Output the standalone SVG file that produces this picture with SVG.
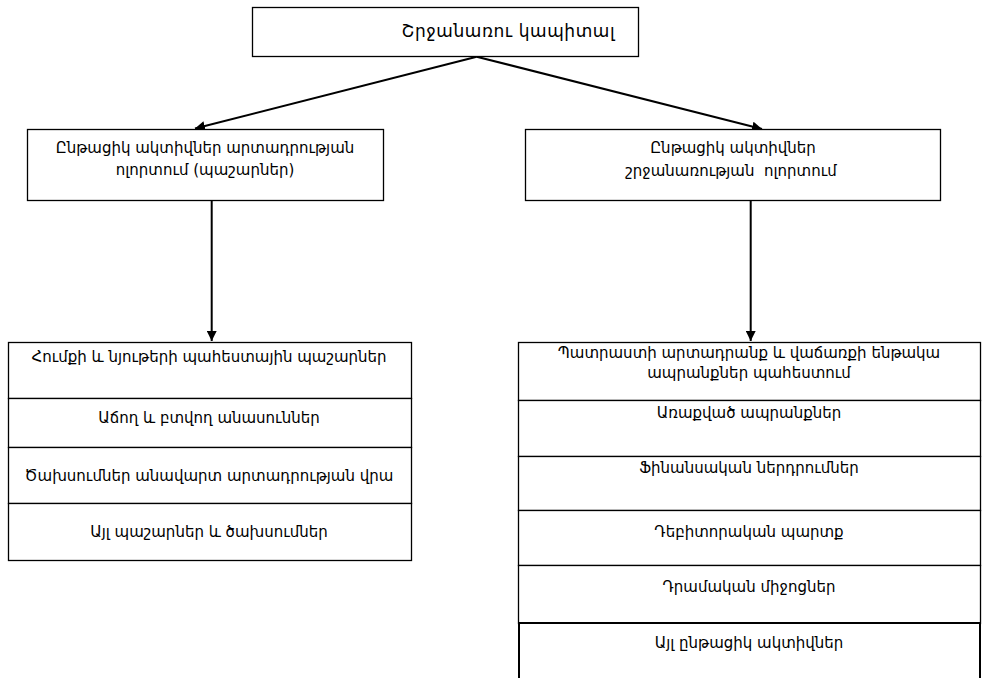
<svg xmlns="http://www.w3.org/2000/svg" width="982" height="678" viewBox="0 0 982 678">
  <defs>
    <marker id="arrow" viewBox="0 0 10 10" refX="10" refY="5" markerWidth="10" markerHeight="10" markerUnits="userSpaceOnUse" orient="auto">
      <path d="M0,0 L10,5 L0,10 Z" fill="#000"/>
    </marker>
    <style>
      .box { fill: #fff; stroke: #000; stroke-width: 1.3; }
      .box2 { fill: #fff; stroke: #000; stroke-width: 2; }
      .lbl { font-family: "DejaVu Sans", "Noto Sans", sans-serif; font-size: 15px; fill: #000; text-anchor: middle; dominant-baseline: central; }
      .title { font-size: 17px; }
      .conn { stroke: #000; stroke-width: 2; fill: none; marker-end: url(#arrow); }
    </style>
  </defs>
  <rect width="982" height="678" fill="#fff"/>

  <!-- connectors -->
  <g id="connectors">
    <line class="conn" x1="476.7" y1="56.7" x2="195" y2="128.5"/>
    <line class="conn" x1="476.7" y1="56.7" x2="762" y2="129"/>
    <line class="conn" x1="211.7" y1="200" x2="211.7" y2="341"/>
    <line class="conn" x1="750.7" y1="200" x2="750.7" y2="341"/>
  </g>

  <!-- top node -->
  <g id="working-capital">
    <rect class="box" x="252.5" y="7.5" width="386" height="49"/>
    <text class="lbl title" x="508" y="31" textLength="213" lengthAdjust="spacing">Շրջանառու կապիտալ</text>
  </g>

  <!-- second level -->
  <g id="production-assets">
    <rect class="box" x="27.5" y="129.5" width="356" height="71"/>
    <text class="lbl" x="205" y="148">Ընթացիկ ակտիվներ արտադրության</text>
    <text class="lbl" x="205" y="170">ոլորտում (պաշարներ)</text>
  </g>
  <g id="circulation-assets">
    <rect class="box" x="525.5" y="129.5" width="415" height="71"/>
    <text class="lbl" x="733" y="148">Ընթացիկ ակտիվներ</text>
    <text class="lbl" x="731" y="171" xml:space="preserve">շրջանառության  ոլորտում</text>
  </g>

  <!-- left stack: inventories -->
  <g id="raw-materials">
    <rect class="box" x="8.5" y="342.5" width="403" height="56"/>
    <text class="lbl" x="209" y="357">Հումքի և նյութերի պահեստային պաշարներ</text>
  </g>
  <g id="livestock">
    <rect class="box" x="8.5" y="398.5" width="403" height="49"/>
    <text class="lbl" x="209" y="418">Աճող և բտվող անասուններ</text>
  </g>
  <g id="work-in-progress">
    <rect class="box" x="8.5" y="447.5" width="403" height="56"/>
    <text class="lbl" x="209" y="476">Ծախսումներ անավարտ արտադրության վրա</text>
  </g>
  <g id="other-inventories">
    <rect class="box" x="8.5" y="503.5" width="403" height="57"/>
    <text class="lbl" x="209" y="532">Այլ պաշարներ և ծախսումներ</text>
  </g>

  <!-- right stack: circulation assets -->
  <g id="finished-goods">
    <rect class="box" x="518.5" y="342.5" width="462" height="58"/>
    <text class="lbl" x="749" y="353">Պատրաստի արտադրանք և վաճառքի ենթակա</text>
    <text class="lbl" x="749" y="373">ապրանքներ պահեստում</text>
  </g>
  <g id="shipped-goods">
    <rect class="box" x="518.5" y="400.5" width="462" height="56"/>
    <text class="lbl" x="749" y="413">Առաքված ապրանքներ</text>
  </g>
  <g id="financial-investments">
    <rect class="box" x="518.5" y="456.5" width="462" height="54"/>
    <text class="lbl" x="749" y="468">Ֆինանսական ներդրումներ</text>
  </g>
  <g id="receivables">
    <rect class="box" x="518.5" y="510.5" width="462" height="55"/>
    <text class="lbl" x="749" y="532">Դեբիտորական պարտք</text>
  </g>
  <g id="cash">
    <rect class="box" x="518.5" y="565.5" width="462" height="58"/>
    <text class="lbl" x="749" y="587">Դրամական միջոցներ</text>
  </g>
  <g id="other-current-assets">
    <rect class="box2" x="519" y="623" width="461" height="70"/>
    <text class="lbl" x="749" y="643">Այլ ընթացիկ ակտիվներ</text>
  </g>
</svg>
